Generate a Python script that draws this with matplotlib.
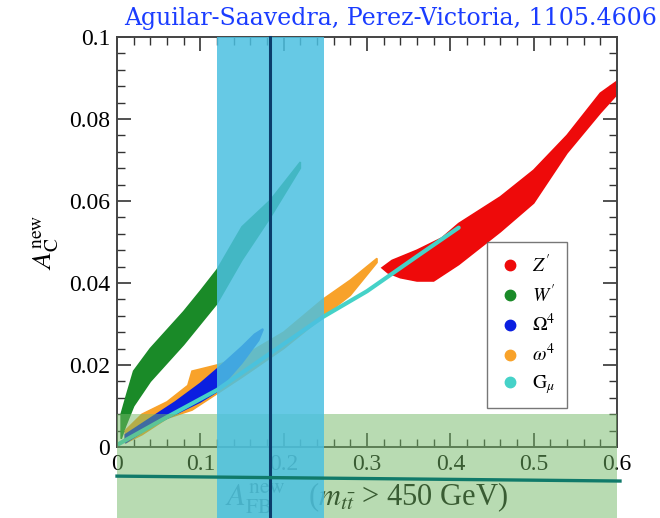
import matplotlib
matplotlib.use("Agg")
import matplotlib.pyplot as plt
from matplotlib.patches import Rectangle
from matplotlib.lines import Line2D
from matplotlib.ticker import MultipleLocator

plt.rcParams['font.family'] = ['Liberation Serif', 'DejaVu Serif']
plt.rcParams['mathtext.fontset'] = 'stix'

# band outlines (x = A_FB^new, y = A_C^new)
zp_x_up = [0.318, 0.33, 0.36, 0.39, 0.41, 0.46, 0.50, 0.54, 0.58, 0.60]
zp_y_up = [0.0437, 0.0455, 0.048, 0.051, 0.0545, 0.0610, 0.0675, 0.0760, 0.0863, 0.0892]
zp_x_lo = [0.60, 0.58, 0.54, 0.50, 0.46, 0.41, 0.38, 0.36, 0.34, 0.325]
zp_y_lo = [0.0860, 0.0815, 0.0717, 0.0595, 0.0525, 0.0445, 0.0405, 0.0405, 0.0413, 0.0425]

wp_x_up = [0.005, 0.012, 0.02, 0.04, 0.06, 0.08, 0.10, 0.12, 0.15, 0.184, 0.22]
wp_y_up = [0.008, 0.013, 0.0185, 0.024, 0.0285, 0.033, 0.038, 0.0432, 0.0537, 0.0602, 0.0695]
wp_x_lo = [0.22, 0.184, 0.15, 0.12, 0.10, 0.08, 0.06, 0.04, 0.02, 0.01, 0.005]
wp_y_lo = [0.068, 0.056, 0.0456, 0.035, 0.030, 0.025, 0.0205, 0.016, 0.010, 0.005, 0.002]

om_x_up = [0.01, 0.04, 0.07, 0.10, 0.12, 0.15, 0.165, 0.175]
om_y_up = [0.003, 0.007, 0.011, 0.0155, 0.019, 0.0245, 0.0275, 0.0288]
om_x_lo = [0.175, 0.17, 0.15, 0.12, 0.10, 0.07, 0.04, 0.01]
om_y_lo = [0.0285, 0.026, 0.0205, 0.0135, 0.011, 0.008, 0.005, 0.001]

ow_x_up = [0.01, 0.03, 0.06, 0.085, 0.09, 0.11, 0.12, 0.15, 0.20, 0.247, 0.28, 0.312]
ow_y_up = [0.004, 0.008, 0.011, 0.015, 0.0185, 0.0195, 0.020, 0.022, 0.028, 0.036, 0.0407, 0.046]
ow_x_lo = [0.312, 0.28, 0.247, 0.20, 0.15, 0.12, 0.09, 0.06, 0.03, 0.01]
ow_y_lo = [0.045, 0.037, 0.0317, 0.024, 0.017, 0.013, 0.009, 0.007, 0.003, 0.001]

gm_x = [0.0, 0.06, 0.12, 0.247, 0.30, 0.36, 0.41]
gm_y = [0.0005, 0.0073, 0.0139, 0.0317, 0.038, 0.0465, 0.0535]

labels = ["$Z'$", "$W'$", r"$\Omega^4$", r"$\omega^4$", r"$\mathrm{G}_\mu$"]
colors = ['#ee0a0a', '#1a8a28', '#0b1fe0', '#f8a22a', '#45d2c8']

fig = plt.figure(figsize=(6.6, 5.18), dpi=100)
ax = fig.add_axes([117/660, 1-447/518, 500/660, 410/518])

bands = [(zp_x_up, zp_y_up, zp_x_lo, zp_y_lo),
         (wp_x_up, wp_y_up, wp_x_lo, wp_y_lo),
         (ow_x_up, ow_y_up, ow_x_lo, ow_y_lo),
         (om_x_up, om_y_up, om_x_lo, om_y_lo)]
band_cols = [colors[0], colors[1], colors[3], colors[2]]
for (xu, yu, xl, yl), c in zip(bands, band_cols):
    ax.fill(xu + xl, yu + yl, color=c, lw=1.2, zorder=2)
ax.plot(gm_x, gm_y, color=colors[4], lw=3, zorder=2.2, solid_capstyle='round')

ax.set_xlim(0, 0.6)
ax.set_ylim(0, 0.1)
ax.xaxis.set_minor_locator(MultipleLocator(0.02))
ax.yaxis.set_minor_locator(MultipleLocator(0.004))
ax.set_xticks([0, 0.1, 0.2, 0.3, 0.4, 0.5, 0.6])
ax.set_xticklabels(['0', '0.1', '0.2', '0.3', '0.4', '0.5', '0.6'])
ax.set_yticks([0, 0.02, 0.04, 0.06, 0.08, 0.1])
ax.set_yticklabels(['0', '0.02', '0.04', '0.06', '0.08', '0.1'])
ax.tick_params(which='both', direction='in', top=True, right=True,
               labelsize=17, colors='#333333', labelcolor='black')
ax.tick_params(which='major', length=10, width=1.2)
ax.tick_params(which='minor', length=5.5, width=1.0)
ax.tick_params(axis='x', pad=5)
ax.tick_params(axis='y', pad=5)
for s in ax.spines.values():
    s.set_color('#444444')
    s.set_linewidth(1.4)

ax.set_ylabel(r"$A_{\mathrm{C}}^{\mathrm{new}}$", fontsize=20, labelpad=6)
ax.set_xlabel(r"$A_{\mathrm{FB}}^{\mathrm{new}}$   ($m_{t\bar{t}}$ > 450 GeV)",
              fontsize=22, labelpad=4)

handles = [Line2D([], [], ls='none', marker='o', ms=7.5, color=c) for c in colors]
leg = ax.legend(handles, labels, loc='upper left', bbox_to_anchor=(0.74, 0.5),
                borderaxespad=0, fontsize=14, frameon=True, fancybox=False,
                labelspacing=0.4, handletextpad=0.5, borderpad=0.6, handlelength=1.2)
leg.get_frame().set_edgecolor('#555555')
leg.get_frame().set_linewidth(1.0)

# overlays from the original slide
y_bot = -0.0173
ax.add_patch(Rectangle((0, y_bot), 0.6, 0.008 - y_bot, facecolor=(0.45, 0.72, 0.40),
                       alpha=0.5, lw=0, zorder=4, clip_on=False))
ax.add_patch(Rectangle((0.12, y_bot), 0.128, 0.1 - y_bot, facecolor=(0.294, 0.753, 0.882),
                       alpha=0.85, lw=0, zorder=4.1, clip_on=False))
ax.plot([0.1836, 0.1836], [y_bot, 0.1], color='#0b3d6b', lw=2.2, zorder=4.2, clip_on=False)
ax.plot([0.0, 0.6036], [-0.0071, -0.0083], color='#107a6a', lw=2.4, zorder=4.2, clip_on=False)

fig.text(0.995, 0.965, "Aguilar-Saavedra, Perez-Victoria, 1105.4606", color='#1a3cff',
         fontsize=17, family='DejaVu Serif', ha='right', va='center')

fig.savefig("out.png", dpi=100)
